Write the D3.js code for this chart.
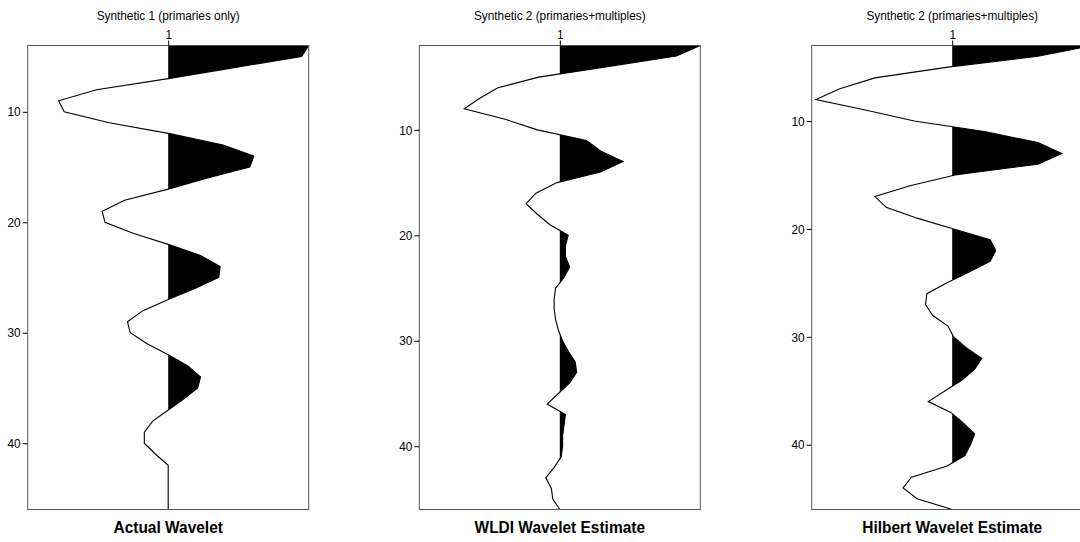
<!DOCTYPE html>
<html>
<head>
<meta charset="utf-8">
<script src="https://cdn.jsdelivr.net/npm/d3@7"></script>
<style>
  html, body { margin: 0; padding: 0; background: #fff; overflow: hidden; }
  svg { display: block; }
  text { font-family: "Liberation Sans Narrow", "Arial Narrow", "Helvetica Narrow", "Liberation Sans", Arial, sans-serif; }
</style>
</head>
<body>
<svg id="chart" width="1080" height="542"></svg>
<script>
// Wavelet traces, one value per sample, normalised to the largest amplitude
const actualStart = 4;
const actualWavelet = [
  1.00, 0.95, 0.47, 0.00, -0.51, -0.78, -0.74, -0.42, 0.02, 0.39,
  0.61, 0.58, 0.28, 0.00, -0.31, -0.47, -0.45, -0.25, 0.00, 0.23,
  0.37, 0.36, 0.19, 0.00, -0.18, -0.29, -0.27, -0.15, 0.00, 0.14,
  0.23, 0.21, 0.11, 0.00, -0.11, -0.17, -0.17, -0.09, 0.00, 0.00,
  0.00, 0.00, 0.00
];

const wldiStart = 2;
const wldiWavelet = [
  1.00, 0.83, 0.34, -0.15, -0.44, -0.57, -0.68, -0.39, -0.16, 0.19,
  0.29, 0.45, 0.29, -0.02, -0.17, -0.24, -0.16, -0.07, 0.06, 0.04,
  0.04, 0.07, 0.03, -0.03, -0.04, -0.04, -0.03, -0.01, 0.02, 0.06,
  0.11, 0.12, 0.07, -0.01, -0.09, 0.04, 0.03, 0.02, 0.02, 0.01,
  -0.04, -0.10, -0.06, -0.05, 0.00
];

const hilbertStart = 3;
const hilbertWavelet = [
  1.00, 0.61, -0.03, -0.55, -0.80, -0.97, -0.61, -0.27, 0.24, 0.61,
  0.78, 0.61, 0.02, -0.30, -0.55, -0.47, -0.25, 0.01, 0.27, 0.31,
  0.27, 0.12, -0.04, -0.18, -0.19, -0.14, -0.03, 0.01, 0.10, 0.21,
  0.16, 0.07, -0.05, -0.17, -0.01, 0.08, 0.16, 0.13, 0.09, -0.04,
  -0.29, -0.35, -0.25, 0.00
];

const panelTitles = ["Synthetic 1 (primaries only)", "Synthetic 2 (primaries+multiples)", "Synthetic 2 (primaries+multiples)"];
const panelLabels = ["Actual Wavelet", "WLDI Wavelet Estimate", "Hilbert Wavelet Estimate"];
const panelStarts = [actualStart, wldiStart, hilbertStart];
const panelSeries = [actualWavelet, wldiWavelet, hilbertWavelet];
const lastSample = 46;
const traceTicks = [1];
const sampleTicks = [10, 20, 30, 40];

const svg = d3.select("#chart");

const panelLeft = [27.7, 419.3, 811.7];
const panelWidth = 281;
const frameTop = 45.5, frameBottom = 509.5;
const narrow = 0.91; // horizontal condensing of all lettering

function condense(sel) {
  sel.each(function () {
    const t = d3.select(this);
    const ax = +t.attr("x") || 0;
    t.attr("transform", `translate(${ax},0) scale(${narrow},1) translate(${-ax},0)`);
  });
}

panelSeries.forEach((series, i) => {
  const start = panelStarts[i];
  const pts = series.map((v, k) => ({ t: start + k, v }));

  const x = d3.scaleLinear().domain([0, 2]).range([panelLeft[i], panelLeft[i] + panelWidth]);
  const y = d3.scaleLinear().domain([start, lastSample]).range([frameTop, frameBottom]);

  const g = svg.append("g");

  // positive lobes filled: insert zero crossings so each lobe closes on the baseline
  const filled = [];
  for (let k = 0; k < pts.length; k++) {
    const p = pts[k];
    if (k > 0) {
      const q = pts[k - 1];
      if ((q.v > 0 && p.v < 0) || (q.v < 0 && p.v > 0)) {
        const f = q.v / (q.v - p.v);
        filled.push({ t: q.t + f * (p.t - q.t), v: 0 });
      }
    }
    filled.push(p);
  }
  const area = d3.area()
    .curve(d3.curveLinear)
    .y(d => y(d.t))
    .x0(() => x(1))
    .x1(d => x(1 + Math.max(0, d.v)));
  g.append("path")
    .datum(filled)
    .attr("d", area)
    .attr("fill", "#000")
    .attr("stroke", "none");

  const line = d3.line().x(d => x(1 + d.v)).y(d => y(d.t));
  g.append("path")
    .datum(pts)
    .attr("d", line)
    .attr("fill", "none")
    .attr("stroke", "#000")
    .attr("stroke-width", 1.1);

  // frame
  g.append("rect")
    .attr("x", x(0)).attr("y", frameTop)
    .attr("width", x(2) - x(0)).attr("height", frameBottom - frameTop)
    .attr("fill", "none").attr("stroke", "#555").attr("stroke-width", 1);

  // axes
  const xAxis = d3.axisTop(x).tickValues(traceTicks).tickSize(5).tickPadding(2).tickFormat(d3.format("d"));
  const gx = g.append("g").attr("transform", `translate(0,${frameTop})`).call(xAxis);
  gx.select(".domain").remove();
  gx.attr("font-family", null).attr("font-size", 13);
  gx.selectAll("text").attr("fill", "#000").call(condense);

  const yAxis = d3.axisLeft(y).tickValues(sampleTicks).tickSize(5).tickPadding(2).tickFormat(d3.format("d"));
  const gy = g.append("g").attr("transform", `translate(${x(0)},0)`).call(yAxis);
  gy.select(".domain").remove();
  gy.attr("font-family", null).attr("font-size", 13);
  gy.selectAll("text").attr("fill", "#000").call(condense);

  // titles
  g.append("text")
    .attr("x", x(1)).attr("y", 20.5)
    .attr("text-anchor", "middle")
    .attr("font-size", 13)
    .text(panelTitles[i])
    .call(condense);

  g.append("text")
    .attr("x", x(1)).attr("y", 533)
    .attr("text-anchor", "middle")
    .attr("font-size", 17)
    .attr("font-weight", "bold")
    .text(panelLabels[i])
    .call(condense);
});
</script>
</body>
</html>
